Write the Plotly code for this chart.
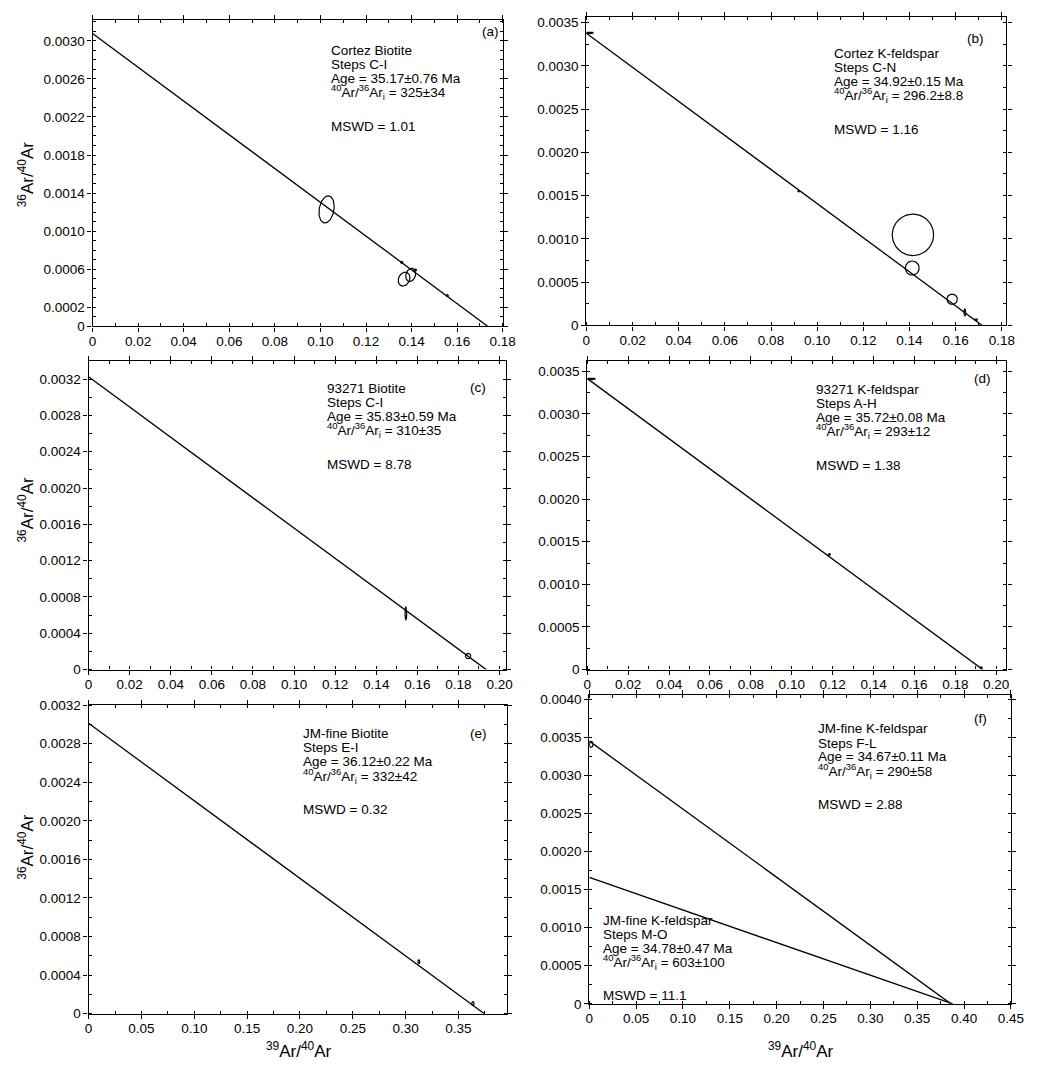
import numpy as np
import plotly.graph_objects as go

# ---- isochron results (one entry per regression line) ----
panel_of_fit = [0, 1, 2, 3, 4, 5, 5]
samples = ["Cortez Biotite", "Cortez K-feldspar", "93271 Biotite", "93271 K-feldspar",
           "JM-fine Biotite", "JM-fine K-feldspar", "JM-fine K-feldspar"]
steps = ["C-I", "C-N", "C-I", "A-H", "E-I", "F-L", "M-O"]
ages = ["35.17±0.76", "34.92±0.15", "35.83±0.59", "35.72±0.08", "36.12±0.22", "34.67±0.11", "34.78±0.47"]
initial_ratio_text = ["325±34", "296.2±8.8", "310±35", "293±12", "332±42", "290±58", "603±100"]
initial_ratio = [325, 296.2, 310, 293, 332, 290, 603]
mswd = ["1.01", "1.16", "8.78", "1.38", "0.32", "2.88", "11.1"]
x_intercept = [0.1735, 0.1715, 0.1935, 0.1934, 0.3745, 0.386, 0.388]

panel_letters = ["(a)", "(b)", "(c)", "(d)", "(e)", "(f)"]

# ---- error ellipses: centre, 1-sigma half widths, correlation ----
ell_panel = [0, 0, 0, 0, 0, 0,
             1, 1, 1, 1, 1, 1, 1,
             2, 2,
             3, 3, 3,
             4, 4,
             5]
ell_x = [0.1027, 0.1367, 0.1396, 0.1357, 0.1416, 0.1557,
         0.0015, 0.0920, 0.1415, 0.1412, 0.1585, 0.1640, 0.1689,
         0.1544, 0.1847,
         0.0020, 0.1184, 0.1926,
         0.3125, 0.3637,
         0.0020]
ell_y = [0.001229, 0.000497, 0.000541, 0.000673, 0.000593, 0.000324,
         0.003380, 0.001550, 0.001047, 0.000663, 0.000303, 0.000151, 0.000068,
         0.000619, 0.000149,
         0.003410, 0.001351, 0.000023,
         0.000539, 0.000105,
         0.003405]
ell_sx = [0.00335, 0.00259, 0.00216, 0.0005, 0.0006, 0.0005,
          0.0016, 0.0004, 0.00896, 0.0030, 0.00227, 0.0004, 0.0006,
          0.0004, 0.0013,
          0.0020, 0.0005, 0.0006,
          0.0010, 0.0012,
          0.0020]
ell_sy = [0.000142, 0.0000725, 0.000069, 0.00001, 0.00001, 0.00001,
          0.000008, 0.000008, 0.000239, 0.000082, 0.00006, 0.00004, 0.00001,
          0.000072, 0.00003,
          0.000008, 0.00001, 0.00001,
          0.00002, 0.00002,
          0.00004]
ell_rho = [0.22, 0.2, 0.2, 0.0, 0.0, 0.0,
           0.0, 0.0, 0.0, 0.0, 0.0, 0.0, 0.0,
           0.0, 0.0,
           0.0, 0.0, 0.0,
           0.0, 0.0,
           0.0]

# ---- axes: ranges, tick values and labels ----
x_ranges = [[0, 0.18], [0, 0.182], [0, 0.203], [0, 0.205], [0, 0.3956], [0, 0.4505]]
y_ranges = [[0, 0.00322], [0, 0.003565], [0, 0.0034], [0, 0.00362], [0, 0.0032], [0, 0.00405]]

x_tick_labels = [
    ["0", "0.02", "0.04", "0.06", "0.08", "0.10", "0.12", "0.14", "0.16", "0.18"],
    ["0", "0.02", "0.04", "0.06", "0.08", "0.10", "0.12", "0.14", "0.16", "0.18"],
    ["0", "0.02", "0.04", "0.06", "0.08", "0.10", "0.12", "0.14", "0.16", "0.18", "0.20"],
    ["0", "0.02", "0.04", "0.06", "0.08", "0.10", "0.12", "0.14", "0.16", "0.18", "0.20"],
    ["0", "0.05", "0.10", "0.15", "0.20", "0.25", "0.30", "0.35"],
    ["0", "0.05", "0.10", "0.15", "0.20", "0.25", "0.30", "0.35", "0.40", "0.45"],
]
y_tick_labels = [
    ["0", "0.0002", "0.0006", "0.0010", "0.0014", "0.0018", "0.0022", "0.0026", "0.0030"],
    ["0", "0.0005", "0.0010", "0.0015", "0.0020", "0.0025", "0.0030", "0.0035"],
    ["0", "0.0004", "0.0008", "0.0012", "0.0016", "0.0020", "0.0024", "0.0028", "0.0032"],
    ["0", "0.0005", "0.0010", "0.0015", "0.0020", "0.0025", "0.0030", "0.0035"],
    ["0", "0.0004", "0.0008", "0.0012", "0.0016", "0.0020", "0.0024", "0.0028", "0.0032"],
    ["0", "0.0005", "0.0010", "0.0015", "0.0020", "0.0025", "0.0030", "0.0035", "0.0040"],
]
x_minor = [0.01, 0.01, 0.01, 0.01, 0.025, 0.025]
y_minor = [0.0001, 0.00025, 0.0002, 0.00025, 0.0002, 0.00025]

# ---- page geometry (pixels) ----
W, H = 1044, 1072
FONT = "Liberation Sans, Arial, Helvetica, sans-serif"
TICK_SIZE = 13.5
TEXT_SIZE = 13.5
TITLE_SIZE = 17
# plot boxes: left, right, top, bottom
boxes = [(90, 507, 13, 324), (592, 1019, 10, 323),
         (86, 510, 359, 672), (593, 1019, 359, 672),
         (86, 511, 708, 1021), (595, 1024, 698, 1011)]
# text block anchor (left x, first-line centre y) per fit
text_pos = [(330, 44), (842, 47), (326, 387), (823, 388), (302, 737), (825, 732), (607, 926)]
line_offsets = [0, 14.5, 28.5, 42.5, 77]
letter_pos = [(495, 25), (988, 32), (482, 386), (995, 377), (482, 737), (993, 722)]


def px(x):
    return x / W


def py(y):
    return 1 - y / H


fig = go.Figure()

# regression lines
for k in range(len(samples)):
    p = panel_of_fit[k]
    yi = 1.0 / initial_ratio[k]
    fig.add_trace(go.Scatter(
        x=[0, x_intercept[k]], y=[yi, 0], mode="lines",
        line=dict(color="black", width=1.3),
        xaxis=f"x{p + 1}", yaxis=f"y{p + 1}", showlegend=False, hoverinfo="skip"))

# error ellipses, one trace per panel
t = np.linspace(0, 2 * np.pi, 80)
for p in range(6):
    xs, ys = [], []
    for i in range(len(ell_x)):
        if ell_panel[i] != p:
            continue
        r = ell_rho[i]
        ex = ell_x[i] + ell_sx[i] * np.cos(t)
        ey = ell_y[i] + ell_sy[i] * (r * np.cos(t) + np.sqrt(1 - r * r) * np.sin(t))
        xs += list(ex) + [None]
        ys += list(ey) + [None]
    fig.add_trace(go.Scatter(
        x=xs, y=ys, mode="lines", line=dict(color="black", width=1.2),
        xaxis=f"x{p + 1}", yaxis=f"y{p + 1}", showlegend=False, hoverinfo="skip"))

layout = dict(
    width=W, height=H, margin=dict(l=0, r=0, t=0, b=0),
    paper_bgcolor="white", plot_bgcolor="white", showlegend=False,
    font=dict(family=FONT, color="black", size=TEXT_SIZE),
)

for p in range(6):
    l, r, tp, bt = boxes[p]
    xv = [float(s) for s in x_tick_labels[p]]
    yv = [float(s) for s in y_tick_labels[p]]
    axis_common = dict(
        showline=True, linecolor="black", linewidth=1.2, mirror="allticks",
        ticks="outside", ticklen=4, tickwidth=1, tickcolor="black",
        showgrid=False, zeroline=False, tickmode="array",
        tickfont=dict(family=FONT, size=TICK_SIZE, color="black"),
    )
    layout[f"xaxis{p + 1}"] = dict(
        axis_common, domain=[px(l), px(r)], range=x_ranges[p],
        tickvals=xv, ticktext=x_tick_labels[p], anchor=f"y{p + 1}",
        ticklabelstandoff=-2,
        minor=dict(dtick=x_minor[p], tick0=0, ticks="inside", ticklen=3, tickcolor="black"),
    )
    layout[f"yaxis{p + 1}"] = dict(
        axis_common, domain=[py(bt), py(tp)], range=y_ranges[p],
        tickvals=yv, ticktext=y_tick_labels[p], anchor=f"x{p + 1}",
        minor=dict(dtick=y_minor[p], tick0=0, ticks="inside", ticklen=3, tickcolor="black"),
    )

annotations = []


def note(x, y, text, size=TEXT_SIZE, anchor="left", angle=0):
    annotations.append(dict(
        x=px(x), y=py(y), xref="paper", yref="paper", text=text, showarrow=False,
        xanchor=anchor, yanchor="middle", textangle=angle,
        font=dict(family=FONT, size=size, color="black")))


for k in range(len(samples)):
    x0, y0 = text_pos[k]
    lines = [
        samples[k],
        f"Steps {steps[k]}",
        f"Age = {ages[k]} Ma",
        f"<sup>40</sup>Ar/<sup>36</sup>Ar<sub>i</sub> = {initial_ratio_text[k]}",
        f"MSWD = {mswd[k]}",
    ]
    for txt, dy in zip(lines, line_offsets):
        note(x0, y0 + dy, txt)

for p in range(6):
    note(letter_pos[p][0], letter_pos[p][1], panel_letters[p], anchor="center")

# axis titles
y_title = "<sup>36</sup>Ar/<sup>40</sup>Ar"
x_title = "<sup>39</sup>Ar/<sup>40</sup>Ar"
for yc in [170, 510, 852]:
    note(22, yc, y_title, size=TITLE_SIZE, anchor="center", angle=-90)
note(300, 1058, x_title, size=TITLE_SIZE, anchor="center")
note(810, 1058, x_title, size=TITLE_SIZE, anchor="center")

layout["annotations"] = annotations
fig.update_layout(**layout)

fig.write_html("out.html")
